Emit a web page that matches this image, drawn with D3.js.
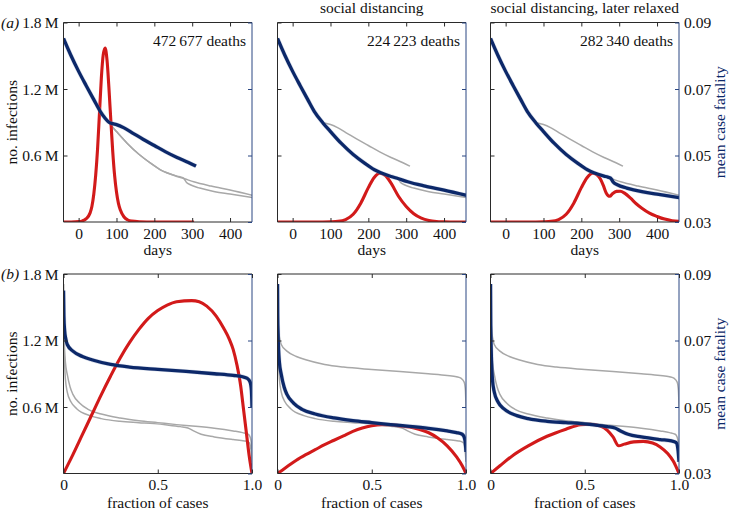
<!DOCTYPE html>
<html><head><meta charset="utf-8">
<script src="https://cdn.jsdelivr.net/npm/d3@7"></script>
<style>
body{margin:0;background:#fff}
svg{display:block}
text{font-family:"Liberation Serif","Times New Roman",serif;font-size:15.5px;fill:#111}
</style>
</head><body><svg id="c" width="729" height="512"></svg>
<script>
// ---------------- DATA ----------------
const scenarioTitles = ["", "social distancing", "social distancing, later relaxed"];
const deathLabels = ["472\u2009677 deaths", "224\u2009223 deaths", "282\u2009340 deaths"];
const dayTicks = [0, 100, 200, 300, 400];
const fracTicks = [0, 0.5, 1.0];
const infTicks = [0.6, 1.2, 1.8];            // millions
const cfrTicks = [0.03, 0.05, 0.07, 0.09];

// (a) infections (millions) over days
const infDays1 = [-40,-20,0,10,20,30,35,40,45,50,55,60,65,70,75,80,85,90,95,100,105,110,120,130,140,160,180,220,260,305];
const inf1     = [0,0.0005,0.003,0.01,0.03,0.08,0.14,0.25,0.42,0.66,0.98,1.30,1.51,1.57,1.46,1.21,0.92,0.64,0.42,0.27,0.17,0.11,0.045,0.018,0.008,0.002,0.0005,0,0,0];
const infDays2 = [-40,0,50,80,100,120,140,160,180,200,215,230,245,260,280,300,320,340,360,380,400,430,460];
const inf2     = [0,0,0,0.0005,0.002,0.006,0.022,0.07,0.17,0.31,0.40,0.44,0.42,0.35,0.23,0.14,0.075,0.035,0.014,0.005,0.002,0,0];
const infDays3 = [-40,0,50,80,100,120,140,160,180,200,215,230,240,250,258,266,275,283,293,303,315,330,345,360,380,400,420,440,460];
const inf3     = [0,0,0,0.0005,0.002,0.006,0.022,0.07,0.17,0.31,0.40,0.44,0.43,0.39,0.33,0.26,0.232,0.258,0.276,0.278,0.258,0.215,0.165,0.125,0.08,0.05,0.026,0.012,0.006];

// (a) mean case fatality over days
const cfrDays1 = [-40,-20,0,20,40,57,70,80,90,100,120,145,170,200,230,260,290,310];
const cfr1     = [0.0852,0.0800,0.0753,0.0710,0.0668,0.0633,0.0612,0.0600,0.0596,0.0593,0.0583,0.0566,0.0549,0.0530,0.0511,0.0494,0.0479,0.0468];
const cfrDays2 = [-40,-20,0,20,40,57,80,100,128,160,190,216,233,260,280,304,350,400,460];
const cfr2     = [0.0852,0.0800,0.0753,0.0710,0.0668,0.0633,0.0598,0.0572,0.0537,0.0503,0.0477,0.0457,0.0448,0.0437,0.0430,0.0421,0.0408,0.0396,0.0380];
const cfrDays3 = [-40,-20,0,20,40,57,80,100,128,160,190,216,233,260,270,277,285,295,320,360,400,460];
const cfr3     = [0.0852,0.0800,0.0753,0.0710,0.0668,0.0633,0.0598,0.0572,0.0537,0.0503,0.0477,0.0457,0.0448,0.0438,0.0435,0.0432,0.0419,0.0412,0.0402,0.0391,0.0384,0.0373];

// (b) infections (millions) over fraction of cases
const infFrac1 = [0,0.05,0.1,0.15,0.2,0.25,0.3,0.35,0.4,0.45,0.5,0.55,0.6,0.68,0.72,0.76,0.81,0.85,0.88,0.9,0.92,0.94,0.955,0.97,0.985,1.0];
const infB1    = [0,0.17,0.35,0.53,0.71,0.88,1.04,1.18,1.30,1.40,1.47,1.52,1.55,1.56,1.55,1.51,1.42,1.31,1.21,1.12,0.98,0.79,0.58,0.37,0.16,0];
const infFrac2 = [0,0.05,0.1,0.15,0.2,0.25,0.3,0.35,0.4,0.45,0.5,0.55,0.6,0.65,0.7,0.75,0.8,0.85,0.9,0.95,0.98,1.0];
const infB2    = [0,0.06,0.12,0.17,0.215,0.26,0.30,0.34,0.38,0.41,0.43,0.44,0.44,0.43,0.42,0.40,0.37,0.32,0.25,0.15,0.07,0];
const infFrac3 = [0,0.05,0.124,0.2,0.3,0.4,0.478,0.53,0.58,0.62,0.65,0.68,0.71,0.76,0.81,0.86,0.9,0.94,0.97,1.0];
const infB3    = [0,0.07,0.17,0.25,0.336,0.40,0.44,0.445,0.43,0.39,0.33,0.25,0.265,0.285,0.29,0.275,0.24,0.18,0.11,0];

// (b) mean case fatality over fraction of cases
const cfrFrac1 = [0,0.002,0.006,0.012,0.02,0.05,0.1,0.15,0.25,0.35,0.5,0.65,0.8,0.9,0.95,0.975,0.99,0.997,1.0];
const cfrB1    = [0.085,0.0775,0.0730,0.0705,0.0688,0.0668,0.0652,0.0642,0.0628,0.0620,0.0613,0.0607,0.0600,0.0595,0.0591,0.0586,0.0575,0.0550,0.0500];
const cfrFrac2 = [0,0.001,0.003,0.006,0.01,0.02,0.035,0.05,0.085,0.13,0.2,0.3,0.4,0.5,0.6,0.7,0.8,0.9,0.95,0.98,0.99,0.997,1.0];
const cfrB2    = [0.087,0.078,0.072,0.067,0.0635,0.0598,0.0560,0.0538,0.0512,0.0493,0.0479,0.0467,0.0459,0.0453,0.0447,0.0442,0.0436,0.0428,0.0423,0.0418,0.0410,0.0390,0.0365];
const cfrFrac3 = [0,0.001,0.003,0.006,0.01,0.02,0.04,0.07,0.14,0.2,0.3,0.4,0.48,0.55,0.62,0.66,0.69,0.73,0.8,0.9,0.96,0.985,0.995,1.0];
const cfrB3    = [0.087,0.077,0.069,0.063,0.0585,0.0545,0.0515,0.0495,0.0474,0.0465,0.0457,0.0453,0.0450,0.0446,0.0441,0.0437,0.0428,0.0418,0.0410,0.0402,0.0398,0.0393,0.0370,0.0335];

// ---------------- LAYOUT ----------------
const NAVY = "#0c2869", RED = "#d21a1a", GRAY = "#a8a8a8", AXN = "#2a4682", FRAME = "#2a2a2a";
const FONT = '"Liberation Serif","Times New Roman",serif';
const colLeft = [63.5, 277.5, 490.5], pw = 188.5;
const rowTop = [22.5, 274], ph = 199.5;

const svg = d3.select("#c");
const zip = (xs, ys) => xs.map((x, i) => [x, ys[i]]);

const topInf = [zip(infDays1, inf1), zip(infDays2, inf2), zip(infDays3, inf3)];
const topCfr = [zip(cfrDays1, cfr1), zip(cfrDays2, cfr2), zip(cfrDays3, cfr3)];
const botInf = [zip(infFrac1, infB1), zip(infFrac2, infB2), zip(infFrac3, infB3)];
const botCfr = [zip(cfrFrac1, cfrB1), zip(cfrFrac2, cfrB2), zip(cfrFrac3, cfrB3)];

function styleText(sel, fill) {
  sel.style("font-size", "15.5px").style("font-family", FONT).attr("fill", fill || "#111");
}

function panel(row, col) {
  const x0 = colLeft[col], y0 = rowTop[row];
  const x = row === 0 ? d3.scaleLinear().domain([-40, 458]).range([x0, x0 + pw])
                      : d3.scaleLinear().domain([0, 1]).range([x0, x0 + pw]);
  const yI = d3.scaleLinear().domain([0, 1.8]).range([y0 + ph, y0]);
  const yC = d3.scaleLinear().domain([0.03, 0.09]).range([y0 + ph, y0]);
  const infData = row === 0 ? topInf : botInf;
  const cfrData = row === 0 ? topCfr : botCfr;
  const id = "clip" + row + col;
  svg.append("clipPath").attr("id", id).append("rect")
     .attr("x", x0).attr("y", y0 - 2).attr("width", pw).attr("height", ph + 2);
  const g = svg.append("g").attr("clip-path", `url(#${id})`);
  const lineC = d3.line().x(d => x(d[0])).y(d => yC(d[1])).curve(d3.curveMonotoneX);
  const lineI = d3.line().x(d => x(d[0])).y(d => yI(d[1])).curve(d3.curveMonotoneX);
  // grey: other scenarios' fatality
  [0, 1, 2].filter(k => k !== col).forEach(k => {
    g.append("path").attr("d", lineC(cfrData[k])).attr("fill", "none")
     .attr("stroke", GRAY).attr("stroke-width", 1.5);
  });
  g.append("path").attr("d", lineI(infData[col])).attr("fill", "none")
   .attr("stroke", RED).attr("stroke-width", 3.1).attr("stroke-linejoin", "round");
  g.append("path").attr("d", lineC(cfrData[col])).attr("fill", "none")
   .attr("stroke", "#8fa0c4").attr("stroke-width", 4.4).attr("stroke-opacity", 0.35);
  g.append("path").attr("d", lineC(cfrData[col])).attr("fill", "none")
   .attr("stroke", NAVY).attr("stroke-width", 3.3).attr("stroke-linejoin", "round");

  // frame
  const fr = svg.append("g").attr("fill", "none").attr("stroke-width", 1);
  fr.append("line").attr("x1", x0).attr("x2", x0 + pw).attr("y1", y0).attr("y2", y0).attr("stroke", FRAME);
  fr.append("line").attr("x1", x0).attr("x2", x0 + pw).attr("y1", y0 + ph).attr("y2", y0 + ph).attr("stroke", FRAME);
  fr.append("line").attr("x1", x0).attr("x2", x0).attr("y1", y0).attr("y2", y0 + ph).attr("stroke", FRAME);
  fr.append("line").attr("x1", x0 + pw).attr("x2", x0 + pw).attr("y1", y0).attr("y2", y0 + ph).attr("stroke", AXN);

  // x axes (bottom with labels, top ticks only)
  const xt = row === 0 ? dayTicks : fracTicks;
  const fmt = row === 0 ? d3.format("d") : (d => d === 0 ? "0" : d.toFixed(1));
  const ab = svg.append("g").attr("transform", `translate(0,${y0 + ph})`)
    .call(d3.axisBottom(x).tickValues(xt).tickFormat(fmt).tickSize(-4));
  ab.select(".domain").remove();
  ab.selectAll("line").attr("stroke", FRAME);
  styleText(ab.selectAll("text").attr("y", 16.5).attr("dy", 0));
  const at = svg.append("g").attr("transform", `translate(0,${y0})`)
    .call(d3.axisTop(x).tickValues(xt).tickFormat("").tickSize(-4));
  at.select(".domain").remove();
  at.selectAll("line").attr("stroke", FRAME);

  // left axis
  const al = svg.append("g").attr("transform", `translate(${x0},0)`)
    .call(d3.axisLeft(yI).tickValues(infTicks).tickSize(-4)
      .tickFormat(col === 0 ? (d => d.toFixed(1) + "\u2009M") : ""));
  al.select(".domain").remove();
  al.selectAll("line").attr("stroke", FRAME);
  styleText(al.selectAll("text").attr("x", -5).attr("dy", "0.34em"));
  // right axis
  const ar = svg.append("g").attr("transform", `translate(${x0 + pw},0)`)
    .call(d3.axisRight(yC).tickValues(cfrTicks).tickSize(-4)
      .tickFormat(col === 2 ? d3.format(".2f") : ""));
  ar.select(".domain").remove();
  ar.selectAll("line").attr("stroke", AXN);
  styleText(ar.selectAll("text").attr("x", 5).attr("dy", "0.34em"), NAVY);

  // axis titles
  svg.append("text").attr("x", x0 + pw / 2).attr("y", row === 0 ? 255 : 508)
     .attr("text-anchor", "middle").text(row === 0 ? "days" : "fraction of cases");
  if (col === 0) {
    svg.append("text").attr("transform", `translate(17,${y0 + ph / 2}) rotate(-90)`)
       .attr("text-anchor", "middle").text("no. infections");
    svg.append("text").attr("x", 1).attr("y", y0 + 5).style("font-style", "italic")
       .text(row === 0 ? "(a)" : "(b)");
  }
  if (col === 2) {
    svg.append("text").attr("transform", `translate(725,${y0 + ph / 2}) rotate(-90)`)
       .attr("text-anchor", "middle").style("fill", NAVY).text("mean case fatality");
  }
  if (row === 0) {
    svg.append("text").attr("x", x0 + pw - 6).attr("y", y0 + 23).attr("text-anchor", "end")
       .text(deathLabels[col]);
    if (scenarioTitles[col])
      svg.append("text").attr("x", x0 + pw / 2).attr("y", 13).attr("text-anchor", "middle")
         .text(scenarioTitles[col]);
  }
}
for (let r = 0; r < 2; r++) for (let c = 0; c < 3; c++) panel(r, c);
</script>
</body></html>
